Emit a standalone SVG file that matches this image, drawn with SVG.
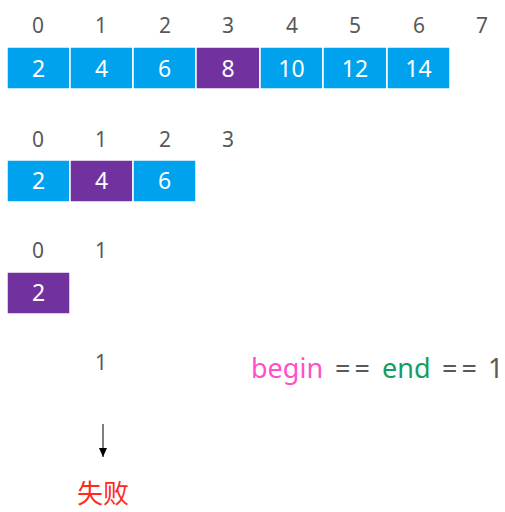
<svg xmlns="http://www.w3.org/2000/svg" width="505" height="512" viewBox="0 0 505 512">
<style>
.b{fill:#00A2EE;stroke:#fff;stroke-width:1.5}
.p{fill:#7132A0;stroke:#fff;stroke-width:1.5}
.v{font-family:"Noto Sans","Open Sans",sans-serif;font-size:23px;fill:#fff;text-anchor:middle}
.i{font-family:"Noto Sans","Open Sans",sans-serif;font-size:21px;fill:#595959;text-anchor:middle}
.e{font-family:"Noto Sans","Open Sans",sans-serif;font-size:27px}
</style>
<defs>
<marker id="ah" markerWidth="8" markerHeight="9" refX="4" refY="9" orient="0" markerUnits="userSpaceOnUse">
<path d="M0,0 L8,0 L4,9 Z" fill="#000"/>
</marker>
</defs>
<rect width="505" height="512" fill="#fff"/>
<g id="row1-index">
<text class="i" x="38" y="33">0</text><text class="i" x="101" y="33">1</text><text class="i" x="165" y="33">2</text><text class="i" x="228" y="33">3</text><text class="i" x="292" y="33">4</text><text class="i" x="355" y="33">5</text><text class="i" x="419" y="33">6</text><text class="i" x="482" y="33">7</text>
</g>
<g id="row1">
<rect class="b" x="7" y="47" width="63" height="42"/><text class="v" x="38.5" y="77">2</text>
<rect class="b" x="70" y="47" width="63" height="42"/><text class="v" x="101.5" y="77">4</text>
<rect class="b" x="133" y="47" width="63" height="42"/><text class="v" x="164.5" y="77">6</text>
<rect class="p" x="196" y="47" width="64" height="42"/><text class="v" x="228" y="77">8</text>
<rect class="b" x="260" y="47" width="63" height="42"/><text class="v" x="291.5" y="77">10</text>
<rect class="b" x="323" y="47" width="64" height="42"/><text class="v" x="355" y="77">12</text>
<rect class="b" x="387" y="47" width="63" height="42"/><text class="v" x="418.5" y="77">14</text>
</g>
<g id="row2-index">
<text class="i" x="38" y="147">0</text><text class="i" x="101" y="147">1</text><text class="i" x="165" y="147">2</text><text class="i" x="228" y="147">3</text>
</g>
<g id="row2">
<rect class="b" x="7" y="160" width="63" height="42"/><text class="v" x="38.5" y="189">2</text>
<rect class="p" x="70" y="160" width="63" height="42"/><text class="v" x="101.5" y="189">4</text>
<rect class="b" x="133" y="160" width="63" height="42"/><text class="v" x="164.5" y="189">6</text>
</g>
<g id="row3-index">
<text class="i" x="38" y="258">0</text><text class="i" x="101" y="258">1</text>
</g>
<g id="row3">
<rect class="p" x="7" y="272" width="63" height="42"/><text class="v" x="38.5" y="301">2</text>
</g>
<g id="row4-index">
<text class="i" x="101" y="370">1</text>
</g>
<g id="condition">
<text class="e" y="378"><tspan x="251" fill="#FF4FCB">begin</tspan><tspan x="335" fill="#595959" letter-spacing="4">==</tspan><tspan x="382" fill="#139E63">end</tspan><tspan x="442" fill="#595959" letter-spacing="4">==</tspan><tspan x="488" fill="#595959">1</tspan></text>
</g>
<g id="connectors">
<line x1="103" y1="424" x2="103" y2="457" stroke="#000" stroke-width="1" marker-end="url(#ah)"/>
</g>
<g id="fail">
<text x="103" y="503" font-family="'Noto Sans CJK SC',sans-serif" font-size="26" fill="#FF2A1A" text-anchor="middle">失败</text>
</g>
</svg>
